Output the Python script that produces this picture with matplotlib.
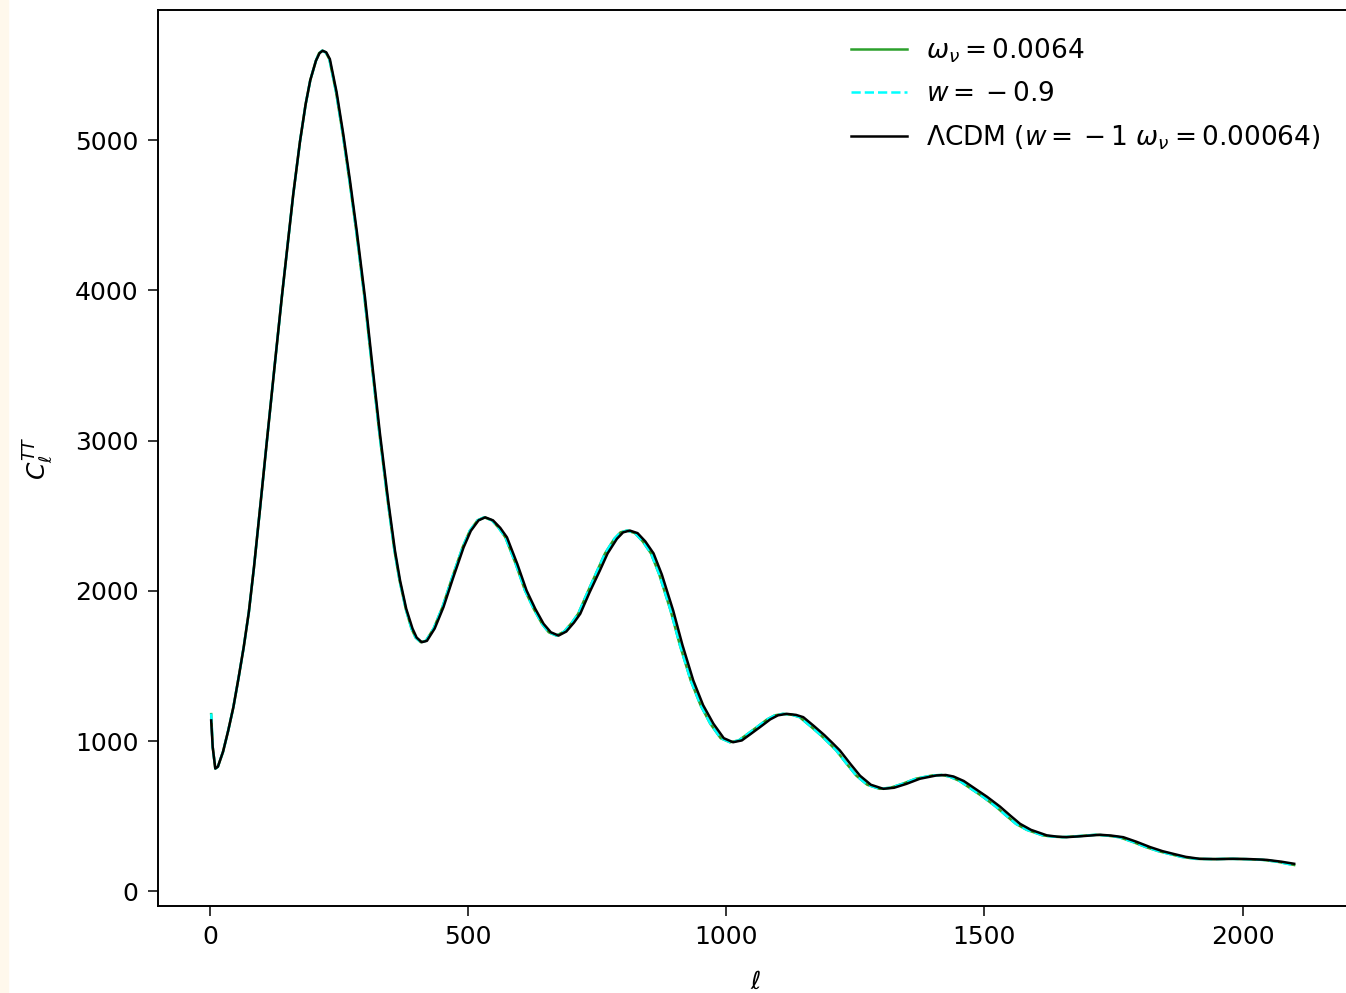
import matplotlib
matplotlib.use('Agg')
import matplotlib.pyplot as plt
from matplotlib.patches import Rectangle

# LCDM TT spectrum (multipole, C_l)
ell_lcdm = [2, 5, 10, 15, 25, 35, 45, 55, 65, 75, 85, 97, 110, 125, 139,
            150, 161, 174, 185, 194, 205, 212, 218, 225, 232, 245, 258, 271,
            284, 300, 315, 329, 345, 358, 368, 380, 392, 400, 410, 420, 435,
            452, 470, 491, 505, 520, 533, 548, 562, 575, 595, 613, 630, 646,
            660, 675, 690, 705, 717, 735, 755, 770, 788, 800, 813, 828, 843,
            859, 875, 897, 915, 936, 955, 975, 995, 1013, 1030, 1048, 1065,
            1085, 1100, 1117, 1135, 1149, 1170, 1190, 1207, 1220, 1240, 1259,
            1280, 1304, 1325, 1349, 1375, 1407, 1425, 1440, 1460, 1478, 1505,
            1530, 1550, 1569, 1590, 1621, 1640, 1659, 1690, 1724, 1745, 1769,
            1795, 1821, 1845, 1866, 1890, 1917, 1950, 1982, 2015, 2047, 2075,
            2100]
cl_lcdm = [1138, 960, 818, 830, 930, 1070, 1226, 1420, 1625, 1860, 2160, 2560,
           3000, 3500, 3960, 4300, 4640, 4990, 5240, 5400, 5530, 5580, 5596,
           5585, 5540, 5320, 5040, 4730, 4398, 3954, 3480, 3047, 2600, 2270,
           2069, 1880, 1750, 1690, 1659, 1668, 1750, 1892, 2080, 2290, 2400,
           2470, 2490, 2470, 2420, 2357, 2180, 2003, 1880, 1781, 1725, 1703,
           1730, 1790, 1848, 1990, 2136, 2250, 2347, 2390, 2402, 2385, 2330,
           2250, 2110, 1870, 1640, 1404, 1240, 1116, 1020, 993, 1005, 1050,
           1093, 1145, 1172, 1182, 1175, 1160, 1100, 1040, 983, 938, 850, 770,
           710, 683, 690, 716, 750, 772, 775, 765, 735, 693, 630, 565, 505,
           450, 410, 373, 365, 361, 368, 377, 372, 361, 330, 295, 268, 250,
           230, 217, 215, 217, 215, 210, 198, 184]

# the two variant models sit a few multipoles lower at high ell
ell_alt = [2, 5, 10, 15, 25, 35, 45, 55, 65, 75, 85, 97, 110, 125, 139,
           150, 161, 174, 185, 194, 205, 211, 217, 224, 231, 244, 257, 270,
           283, 299, 314, 328, 344, 357, 367, 379, 390, 398, 408, 418, 433,
           450, 468, 489, 503, 518, 531, 546, 559, 572, 592, 610, 627, 643,
           656, 671, 686, 701, 713, 731, 750, 765, 783, 795, 808, 823, 838,
           854, 870, 892, 910, 931, 950, 969, 989, 1007, 1024, 1042, 1059,
           1079, 1094, 1110, 1128, 1142, 1163, 1183, 1200, 1213, 1233, 1252,
           1273, 1297, 1318, 1341, 1367, 1399, 1417, 1432, 1452, 1470, 1497,
           1522, 1542, 1561, 1582, 1613, 1632, 1651, 1682, 1716, 1737, 1761,
           1787, 1813, 1837, 1858, 1882, 1909, 1942, 1974, 2007, 2039, 2067,
           2100]
cl_nu = [1180] + cl_lcdm[1:-1] + [176]
cl_w = [1184] + cl_lcdm[1:-1] + [174]

labels = [r'$\omega_\nu = 0.0064$',
          r'$w = {}-0.9$',
          r'$\Lambda$CDM $(w = {}-1\ \omega_\nu = 0.00064)$']

plt.rcParams['font.size'] = 18
plt.rcParams['axes.linewidth'] = 1.4
plt.rcParams['xtick.major.size'] = 7
plt.rcParams['ytick.major.size'] = 7
plt.rcParams['xtick.major.width'] = 1.1
plt.rcParams['ytick.major.width'] = 1.1
plt.rcParams['xtick.major.pad'] = 7
plt.rcParams['ytick.major.pad'] = 7

fig = plt.figure(figsize=(13.46, 9.93), dpi=100)
# thin cream strip at the left edge of the screenshot
fig.patches.append(Rectangle((0, 0), 8 / 1346, 1, transform=fig.transFigure,
                             color='#fff8ec', zorder=0))
ax = fig.add_axes([158 / 1346, 87 / 993, 1195 / 1346, 896 / 993])
# right side of the frame is cut off in the screenshot
ax.spines['right'].set_visible(False)

ax.plot(ell_alt, cl_nu, color='tab:green', lw=1.8, label=labels[0])
ax.plot(ell_alt, cl_w, color='cyan', lw=1.8, ls='--', label=labels[1])
ax.plot(ell_lcdm, cl_lcdm, color='k', lw=1.8, label=labels[2])

ax.set_xlim(-101, 2214)
ax.set_xlabel(r'$\ell$', labelpad=15)
ax.set_ylabel(r'$C_\ell^{TT}$', labelpad=14)
ax.set_xticks([0, 500, 1000, 1500, 2000])
ax.set_yticks([0, 1000, 2000, 3000, 4000, 5000])

ax.legend(loc='upper right', frameon=False, handlelength=2.1, fontsize=19,
          labelspacing=0.62, handletextpad=0.75, bbox_to_anchor=(0.993, 0.997))

fig.savefig('out.png', dpi=100)
